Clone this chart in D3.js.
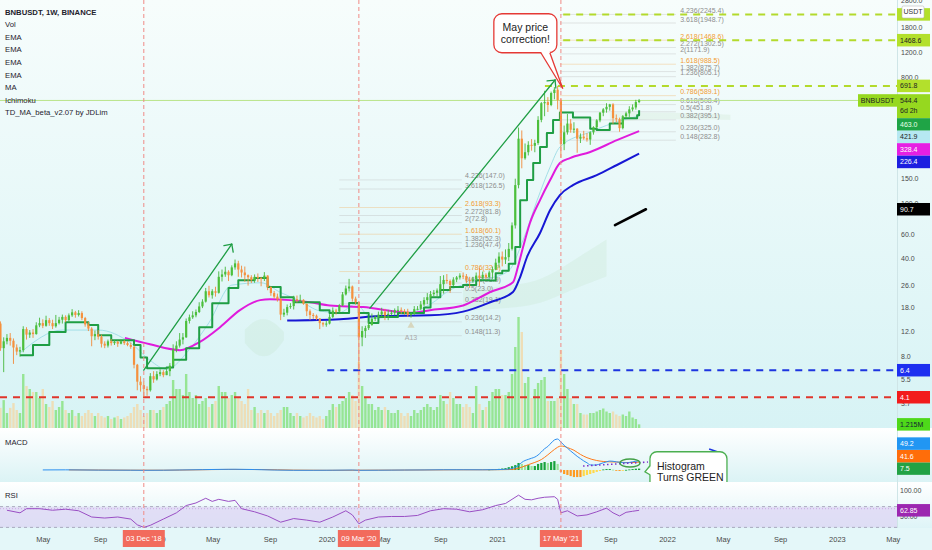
<!DOCTYPE html>
<html><head><meta charset="utf-8">
<script src="https://cdn.jsdelivr.net/npm/d3@7/dist/d3.min.js"></script>
<style>
html,body{margin:0;padding:0;background:#fff;}
svg{display:block;}
</style></head><body>
<svg id="c" width="932" height="550"></svg>
<script>
// ---------------- DATA (weekly BNBUSDT, first week starts 2018-01-29) ----------------
const firstWeek = "2018-01-29";
const firstOpen = 13.8;
const closes = [9.2,10.3,10.9,10.4,9.3,8.7,8.9,12.6,11.5,11.9,
11.6,13.4,13.9,13.3,14.6,13.9,13.2,13.9,14.7,15.4,
14.6,15.8,16.6,15.9,16.4,15.1,13.6,12.7,11.2,11.6,
11.1,9.9,9.6,10.3,10.0,10.2,9.9,10.3,10.0,9.7,
9.4,7.0,5.3,5.0,4.7,4.6,5.8,5.5,6.0,6.2,
5.9,6.3,6.9,9.0,9.6,10.6,11.0,14.4,15.3,15.8,
16.7,18.3,19.8,23.5,22.0,23.5,22.9,29.8,31.0,32.4,
30.6,34.8,37.2,33.6,32.0,30.6,29.6,28.2,29.8,29.2,
29.0,30.4,25.2,22.8,21.5,20.6,16.0,16.5,18.1,18.4,
20.6,20.2,20.4,19.1,16.9,15.9,15.7,15.0,13.9,13.6,
13.8,15.4,17.1,16.8,18.6,22.3,24.6,25.4,20.8,19.6,
11.0,12.2,12.8,13.5,14.9,15.4,16.0,16.8,15.8,16.2,
16.5,17.2,17.3,17.0,16.8,15.9,16.2,17.5,17.6,18.9,
20.3,21.3,22.4,22.9,23.8,26.4,28.3,27.8,26.0,28.5,
29.5,30.4,30.2,28.4,27.8,28.6,30.4,29.3,30.8,29.6,
32.0,33.6,37.6,41.6,39.6,41.2,47.2,69.5,135,290,
210,232,262,258,270,395,520,530,505,615,
650,548,265,322,372,336,342,290,300,292,
286,322,350,392,445,470,490,510,406,400,
345,420,440,470,485,530,544.4];
const highs = [14.3,11.0,11.6,11.8,10.8,9.8,9.4,13.2,13.0,12.4,
12.6,14.1,15.2,14.8,15.7,15.1,14.7,15.9,15.4,16.0,
15.8,16.3,17.5,17.0,17.2,16.9,15.4,14.2,13.0,12.3,
12.4,11.5,10.3,10.6,10.7,10.5,10.4,10.6,10.5,10.3,
10.1,9.6,7.1,5.8,5.3,4.9,6.1,6.3,6.3,6.5,
6.4,6.6,7.2,9.8,10.3,11.8,11.8,15.0,16.0,16.9,
17.4,19.6,20.6,24.8,25.7,24.3,25.3,32.6,33.6,35.2,
33.2,36.0,39.6,38.8,35.8,35.3,31.0,30.6,31.0,31.5,
29.8,32.2,30.6,25.5,23.6,22.6,21.0,17.6,18.9,19.3,
21.8,21.9,22.2,20.6,19.2,17.4,16.4,16.0,15.1,14.2,
14.4,16.1,18.0,17.6,19.0,23.2,25.8,28.8,25.8,21.5,
19.8,13.2,13.3,14.3,16.3,15.8,16.8,17.9,17.6,17.3,
17.2,17.7,18.4,18.0,17.5,17.6,16.6,18.4,18.4,20.0,
21.3,22.8,23.6,24.0,24.6,30.2,30.6,31.2,28.5,29.6,
30.2,31.6,32.0,31.2,29.8,29.8,32.0,34.6,32.5,31.6,
33.0,35.3,40.2,44.6,45.2,46.8,52.0,73.0,150,348,
332,268,278,288,285,420,530,638,575,630,
678,691.8,560,360,435,400,380,345,316,330,
318,328,356,400,450,480,520,515,520,432,
410,428,452,495,510,550,558];
const lows = [8.8,6.2,9.8,9.6,7.1,8.2,8.0,8.6,10.6,10.9,
10.9,11.5,13.0,12.8,13.1,13.3,12.6,12.9,13.6,13.8,
14.1,14.2,15.4,15.2,15.5,14.6,13.1,12.2,9.5,10.5,
10.6,9.3,9.2,9.3,9.6,9.7,9.4,9.8,9.7,9.5,
9.1,6.6,4.6,4.5,4.1,4.2,4.5,5.2,5.4,5.8,
5.7,5.9,5.8,6.8,8.6,9.3,9.8,10.9,13.8,14.9,
15.3,16.4,17.8,19.5,21.2,20.8,21.5,22.6,27.6,29.8,
27.8,30.1,33.5,29.8,29.5,27.5,25.8,26.9,27.0,27.4,
25.5,27.8,23.9,21.8,20.8,19.8,14.6,15.4,15.8,17.6,
17.4,19.5,19.6,18.8,15.6,14.6,14.9,14.6,12.6,13.1,
13.1,13.6,15.1,16.0,16.6,18.4,21.9,23.4,19.8,18.8,
6.4,9.5,10.9,12.4,13.3,14.4,15.0,15.6,14.6,14.6,
15.8,15.8,16.7,16.1,15.9,15.4,15.2,15.9,17.2,17.2,
18.4,19.0,20.8,21.6,21.5,22.8,22.6,26.6,22.9,25.6,
27.3,28.5,28.7,26.8,24.8,27.0,27.8,25.6,28.7,28.5,
29.0,28.8,33.2,34.6,35.4,36.8,38.6,46.0,66,128,
178,205,220,238,232,262,380,420,450,495,
555,470,211.7,240,310,320,318,230,270,285,
276,262,310,340,380,420,445,460,370,380,
325,338,405,415,455,468,520];
const volumesM = [6.7,9.3,5,6.7,8.3,6,5,18,14,13,
12,12,10,13,8,7,9,6,7,9,
6,5,6,4,5,4,5,6,5,4,
5,4,3.5,4,3,3.5,4,3,3.5,4,
5,7,8,6,4,5,6,6,5,6,
7,8,9,16,13,13,11,18,12,10,
11,8,9,10,7,8,9,14,12,12,
10,11,12,10,9,8,13,6,7,5,
6,5,6,5,4,5,6,7,7,5,
4,5,4,3.5,4,5,4,3.5,4,3,
4,6,8,7,8,9,10,12,11,9,
22,14,10,8,8,6,7,6,7,6,
5,5,6,5,4,5,4,6,5,6,
7,8,7,6,7,11,9,8,12,10,
8,8,7,8,7,5,14,8,6,7,
9,12,13,13,11,11,12,18,27,37,
32,15,17,10,13,15,16,17,9,9,
9,10,26,18,13,10,8,8,5,4.5,
4.5,5,5,5.5,6,6.5,5.5,5,5.5,4.5,
4,4.5,4,5.5,3.5,3,1.215];

// indicator lines (week index, value)
const tdWeeks = [6,10,15,20,27,30,34,41,43,45,51,53,57,61,65,70,73,78,82,86,90,94,98,101,107,110,113,116,122,127,130,132,135,138,142,146,150,152,154,156,158,159.5,161.6,163.5,165.6,167.7,169.6,171.7,175.7,181,183,187,191,195.4,196];
const tdValues = [8.2,9.7,12,14.1,13.5,11.4,10.5,9.7,7.9,6.6,6.7,7.6,9.2,13,19.3,24.8,28.2,29.2,25.2,21.3,19.6,19.6,17.2,16.4,19.4,16.4,13.9,15.4,16.4,16.4,18,21.3,24,25.2,26,28.2,28.1,31.6,33,37,48.7,105,147,194,253,318,394,446,411,341,334,373,406,427,463];
const cyanWeeks = [6,19,30,40,46,51,58,64,71,80,86,92,98,104,109,114,120,126,132,138,144,150,156,160.4,164.7,168.7,171.7,181,191,196];
const cyanValues = [8.5,12.4,12.4,10,7.5,6.5,9,14,26,27,23,20,17,16.5,19,15,15.5,16.5,19,24,27,29,33,54.6,105,182,253,324,394,421.9];
const magentaWeeks = [38.2,45.9,55.1,61.2,67.4,73.5,79.7,82.7,88.9,95,101.1,111.3,125.7,131.8,142,150.3,157.3,158.8,160.4,162.5,165.6,168.7,171.7,174.8,181,189.2,196];
const magentaValues = [10.9,9.8,8.9,10.2,13,17.2,20.3,20.6,20.3,19.6,18.6,18.1,16.5,17.2,18.6,23.2,27.3,35,48.7,72.3,105.5,146.7,194,210.6,233,283,328.4];
const blueWeeks = [88,104.2,116.5,131.8,142,150.3,157.3,159.5,161.6,165.6,168.7,171.7,175.7,183,189.2,196];
const blueValues = [14.5,14.8,15.6,15.8,16.8,19.6,23.2,29.7,41.3,61.3,89.5,114.6,135,159,188,226.4];

const cloud1Weeks = [75,78,81,84,87], cloud1Top = [12.5,14.6,15,14.2,12], cloud1Bottom = [10,8.3,7.9,8.4,10.5];
const cloud2Weeks = [142,150,158,166,175,186], cloud2Top = [24,25,26,28,38,55], cloud2Bottom = [17,17.5,18,19,24,30];
const cloud3Weeks = [187,195,205,215,224], cloud3Top = [445,445,445,440,430], cloud3Bottom = [380,395,400,400,395];

// MACD / RSI
const macdWeeks = [13,20,30,40,44,50,56,62,68,72,78,84,90,96,102,108,110,116,124,130,136,142,148,152,154,156,
157,158,159,160,161,162,163,164,165,166,167,168,169,170,171,172,173,174,175,176,177,178,179,180,181,182,183,184,185,186,187,188,189,190,191,192,193,194,195,196];
const macdValues = [0.5,1,-0.5,-1,-1.5,-1,0.5,2,3.5,4,2.5,0,-1.5,-1.5,-1,0,-1.5,-1,0,0.5,1.5,1.5,1.2,2,3,5,
8,15,25,40,50,56,62,68,79,95,112,124,142,158,163,147,130,115,100,86,72,60,48,38,27,26,27,32,38,43,47,46,43,41,39,38,40,43,46,49.2];
const signalWeeks = [21,30,40,50,60,70,80,90,100,110,120,130,140,150,154,156,158,160,162,164,166,168,170,172,173,174,176,178,180,183,185,187,189,191,193,195,196];
const signalValues = [0.8,0,-0.8,-1,1,3,2.5,-0.5,-1.5,-1,-0.5,0.3,1.3,1.3,2,2.5,5,15,28,40,55,80,108,126,124,118,104,82,65,50,45,43,42,40,39,40.5,41.6];
const histFirstWeek = 150;
const histValues = [3,4,5,6,8,10,15,20,26,37,32,26,26,21,21,32,37,42,37,42,47,32,-10,-21,-26,-32,-37,-37,-37,-32,-26,-21,-16,-10,-5,3,5,5,2,-3,-5,-3,1,3,5,7,7.5];
const rsiWeeks = [2,6,8,12,16,20,24,28,32,36,40,42,44,46,50,54,57,60,63,65,67,70,72,74,78,82,86,90,94,98,102,106,108,110,112,116,120,124,128,132,136,140,144,148,152,155,157,159,161,163,165,167,170,171,172,174,177,180,183,186,188,190,192,194,196];
const rsiValues = [63,58,66,66,63,65,62,50,48,50,46,35,30,34,46,58,72,77,86,80,84,80,82,66,60,52,40,47,44,40,50,62,54,37,44,50,51,51,53,62,66,65,60,64,72,76,84,92,84,83,86,88,89,84,58,62,52,54,60,67,58,52,59,61,62.85];

// Fibonacci levels (printed values)
const fibRatios = ["0.148","0.236","0.382","0.5","0.618","0.786","1.236","1.382","1.618","2","2.272","2.618","3.618","4.236"];
const fib1Values = [11.3,14.2,19.1,23.0,26.9,32.5,47.4,52.3,60.1,72.8,81.8,93.3,126.5,147.0];
const fib2Values = [282.8,325.0,395.1,451.8,508.4,589.1,805.1,875.7,988.5,1171.9,1302.5,1468.6,1948.7,2245.4];
const fibOrange = ["0.786","1.618","2.618"];

// horizontal levels
const limeLevels = [2245.4,1468.6,691.8], limeStartWeeks = [172.7,172.7,167.1];
const blueLevel = 6.4, blueLevelStart = 100.3;
const redLevel = 4.1;
const lastPrice = 544.4;

// axis ticks / labels
const priceTicks = [2800,1800,1200,800,150,100,60,40,26,18,12,8,5.5,3.7];
const timeTickDates = ["2018-05-01","2018-09-01","2019-01-01","2019-05-01","2019-09-01","2020-01-01","2020-05-01","2020-09-01","2021-01-01","2021-05-01","2021-09-01","2022-01-01","2022-05-01","2022-09-01","2023-01-01","2023-05-01"];
const timeTickLabels = ["May","Sep","2019","May","Sep","2020","May","Sep","2021","May","Sep","2022","May","Sep","2023","May"];
const markerDates = ["2018-12-03","2020-03-09","2021-05-17"];
const markerLabels = ["03 Dec '18","09 Mar '20","17 May '21"];
const legendLines = ["BNBUSDT, 1W, BINANCE","Vol","EMA","EMA","EMA","EMA","MA","Ichimoku","TD_MA_beta_v2.07 by JDLim"];

// drawings (week index, price)
const arrow1 = [[44,6.4],[71,51]];
const arrow2 = [[113.4,17.8],[170.2,762]];
const blackLine = [[188.6,69.9],[198.1,90.7]];

// ---------------- CHART ----------------
const FONT = "'Liberation Sans', Arial, sans-serif";
const svg = d3.select("#c").attr("font-family", FONT);
const W = 932, PR = 897;
const MAIN_B = 428, MACD_B = 482, RSI_B = 528;

const x = d3.scaleUtc().domain([new Date(Date.UTC(2018,0,1)), new Date(Date.UTC(2023,0,1))]).range([-12.6, 837.4]);
const t0 = Date.parse(firstWeek + "T00:00:00Z");
const wd = i => new Date(t0 + i*7*864e5);
const xw = i => x(wd(i));
const y = d3.scaleLog().domain([2.43, 2847]).range([429, 0]);
const yVol = d3.scaleLinear().domain([0, 40]).range([MAIN_B, 308]);
const yMacd = d3.scaleLinear().domain([-63, 221]).range([MACD_B, MAIN_B]);
const yRsi = d3.scaleLinear().domain([28.85, 117.3]).range([RSI_B, MACD_B]);

const defs = svg.append("defs");
function grad(id, c0, c1){
  const g = defs.append("linearGradient").attr("id", id).attr("x1",0).attr("y1",0).attr("x2",0).attr("y2",1);
  g.append("stop").attr("offset","0%").attr("stop-color",c0);
  g.append("stop").attr("offset","100%").attr("stop-color",c1);
}
grad("gMain","#f7fdfc","#d7f3f5");
grad("gMacd","#ffffff","#dbf3f5");
grad("gRsi","#ffffff","#def4f7");
function clip(id, y0, y1){ defs.append("clipPath").attr("id", id).append("rect").attr("x",0).attr("y",y0).attr("width",PR).attr("height",y1-y0); }
clip("cMain", 0, MAIN_B); clip("cMacd", MAIN_B, MACD_B); clip("cRsi", MACD_B, RSI_B);

svg.append("rect").attr("x",0).attr("y",0).attr("width",W).attr("height",MAIN_B).attr("fill","url(#gMain)");
svg.append("rect").attr("x",0).attr("y",MAIN_B).attr("width",W).attr("height",MACD_B-MAIN_B).attr("fill","url(#gMacd)");
svg.append("rect").attr("x",0).attr("y",MACD_B).attr("width",W).attr("height",RSI_B-MACD_B).attr("fill","url(#gRsi)");
svg.append("rect").attr("x",0).attr("y",RSI_B).attr("width",W).attr("height",550-RSI_B).attr("fill","#e4f7f9");
svg.append("line").attr("x1",PR+0.5).attr("x2",PR+0.5).attr("y1",0).attr("y2",RSI_B).attr("stroke","#cfe5e7");

const main = svg.append("g").attr("clip-path","url(#cMain)");

// ichimoku clouds (faint)
function cloud(weeks, top, bot){
  const pts = weeks.map((w,k)=>({w, t: top[k], b: bot[k]}));
  main.append("path").datum(pts)
    .attr("d", d3.area().x(d=>xw(d.w)).y0(d=>y(d.b)).y1(d=>y(d.t)).curve(d3.curveBasis))
    .attr("fill","#a9d3a3").attr("fill-opacity",0.14);
}
cloud(cloud1Weeks, cloud1Top, cloud1Bottom);
cloud(cloud2Weeks, cloud2Top, cloud2Bottom);
cloud(cloud3Weeks, cloud3Top, cloud3Bottom);

// candles data
const candles = closes.map((c,i)=>({i, o: i===0 ? firstOpen : closes[i-1], h: highs[i], l: lows[i], c, v: volumesM[i]}));

// volume
main.append("g").selectAll("rect").data(candles).join("rect")
  .attr("x", d=>xw(d.i)-1.2).attr("width",2.4)
  .attr("y", d=>yVol(d.v)).attr("height", d=>MAIN_B - yVol(d.v))
  .attr("fill", d=> d.c >= d.o ? "#8fe38a" : "#f0dcb0").attr("fill-opacity",0.9);

// fib levels
const gFib = main.append("g").attr("font-size", 7).attr("font-family", FONT);
function fib(values, w0, w1, wl){
  values.forEach((v,k)=>{
    const r = fibRatios[k], orange = fibOrange.includes(r);
    gFib.append("line").attr("x1",xw(w0)).attr("x2",xw(w1)).attr("y1",y(v)).attr("y2",y(v))
      .attr("stroke", orange ? "#f4b060" : "#b8b8b8").attr("stroke-opacity",0.45).attr("stroke-width",0.8);
    gFib.append("text").attr("x", xw(wl)).attr("y", y(v)-1.5)
      .attr("fill", orange ? "#f39c35" : "#8e8e8e").text(`${r}(${v.toFixed(1)})`);
  });
}
fib(fib1Values, 104, 141.6, 142.6);
fib(fib2Values, 171.7, 207.3, 208.6);

// current price line
main.append("line").attr("x1",0).attr("x2",PR).attr("y1",y(lastPrice)).attr("y2",y(lastPrice)).attr("stroke","#b9e48a").attr("stroke-width",1);

// dashed levels
limeLevels.forEach((v,k)=>{
  main.append("line").attr("x1",xw(limeStartWeeks[k])).attr("x2",PR).attr("y1",y(v)).attr("y2",y(v))
    .attr("stroke","#b3da2c").attr("stroke-width",2).attr("stroke-dasharray","7,6");
});
main.append("line").attr("x1",xw(blueLevelStart)).attr("x2",PR).attr("y1",y(blueLevel)).attr("y2",y(blueLevel))
  .attr("stroke","#1d35e0").attr("stroke-width",2).attr("stroke-dasharray","7,6");
main.append("line").attr("x1",0).attr("x2",PR).attr("y1",y(redLevel)).attr("y2",y(redLevel))
  .attr("stroke","#e0352b").attr("stroke-width",2).attr("stroke-dasharray","7,6");

// indicator lines
function series(weeks, values, color, width, curve){
  const pts = weeks.map((w,k)=>[w, values[k]]);
  main.append("path").datum(pts).attr("d", d3.line().x(d=>xw(d[0])).y(d=>y(d[1])).curve(curve))
    .attr("fill","none").attr("stroke",color).attr("stroke-width",width).attr("stroke-linejoin","round");
}
series(cyanWeeks, cyanValues, "#a3dfe8", 1, d3.curveMonotoneX);
series(blueWeeks, blueValues, "#1717d4", 2, d3.curveMonotoneX);
series(magentaWeeks, magentaValues, "#e01bdc", 2, d3.curveMonotoneX);
series(tdWeeks, tdValues, "#1f9e44", 2, d3.curveStepAfter);

// candles
const gC = main.append("g");
gC.selectAll("line").data(candles).join("line")
  .attr("x1", d=>xw(d.i)).attr("x2", d=>xw(d.i))
  .attr("y1", d=>y(Math.max(d.h,d.o,d.c))).attr("y2", d=>y(Math.min(d.l,d.o,d.c)))
  .attr("stroke", d=> d.c >= d.o ? "#45b83a" : "#f28a3a").attr("stroke-width",0.9);
gC.selectAll("rect").data(candles).join("rect")
  .attr("x", d=>xw(d.i)-1.1).attr("width",2.2)
  .attr("y", d=>y(Math.max(d.o,d.c))).attr("height", d=>Math.max(1, Math.abs(y(d.o)-y(d.c))))
  .attr("fill", d=> d.c >= d.o ? "#4cbf3c" : "#f5913e");

// TD marker
const tdm = candles[126];
main.append("path").attr("d", d3.symbol(d3.symbolTriangle, 22)())
  .attr("transform", `translate(${xw(126)},${y(tdm.l)+8})`).attr("fill","#d7d7bf");
main.append("text").attr("x", xw(126)).attr("y", y(tdm.l)+22).attr("text-anchor","middle")
  .attr("font-size",7).attr("fill","#a9a9a9").text("A13");

// arrows
function arrow(seg, color, width, head){
  const [a,b] = seg;
  const x0 = xw(a[0]), y0 = y(a[1]), x1 = xw(b[0]), y1 = y(b[1]);
  main.append("line").attr("x1",x0).attr("y1",y0).attr("x2",x1).attr("y2",y1)
    .attr("stroke",color).attr("stroke-width",width).attr("stroke-linecap","round");
  if (head){
    const ang = Math.atan2(y0-y1, x0-x1), L = 8;
    [-Math.PI/4, Math.PI/4].forEach(d=>{
      main.append("line").attr("x1",x1).attr("y1",y1)
        .attr("x2", x1 + L*Math.cos(ang+d)).attr("y2", y1 + L*Math.sin(ang+d))
        .attr("stroke",color).attr("stroke-width",width).attr("stroke-linecap","round");
    });
  }
}
arrow(arrow1, "#1f9e44", 1.3, true);
arrow(arrow2, "#1f9e44", 1.3, true);
arrow(blackLine, "#000", 2.6, false);

// ---------------- MACD ----------------
const macdG = svg.append("g").attr("clip-path","url(#cMacd)");
const histPts = histValues.map((v,k)=>({w: histFirstWeek+k, v, p: k ? histValues[k-1] : 0}));
macdG.selectAll("rect").data(histPts).join("rect")
  .attr("x", d=>xw(d.w)-1.1).attr("width",2.2)
  .attr("y", d=>Math.min(yMacd(0), yMacd(d.v))).attr("height", d=>Math.max(0.8, Math.abs(yMacd(d.v)-yMacd(0))))
  .attr("fill", d=> d.v >= 0 ? (d.v >= d.p ? "#17a23a" : "#9ae49a") : (d.v <= d.p ? "#ff9a1f" : "#ffd84a"));
function macdLine(weeks, values, color){
  macdG.append("path").datum(weeks.map((w,k)=>[w, values[k]]))
    .attr("d", d3.line().x(d=>xw(d[0])).y(d=>yMacd(d[1])).curve(d3.curveMonotoneX))
    .attr("fill","none").attr("stroke",color).attr("stroke-width",1);
}
macdLine(signalWeeks, signalValues, "#ff7a1a");
macdLine(macdWeeks, macdValues, "#2b8ff0");
// macd annotations
macdG.append("line").attr("x1",xw(178.8)).attr("y1",yMacd(21)).attr("x2",xw(198.7)).attr("y2",yMacd(42))
  .attr("stroke","#7b2fc9").attr("stroke-width",1.6).attr("stroke-dasharray","1.5,2.5");
macdG.append("ellipse").attr("cx",xw(193.2)).attr("cy",yMacd(37)).attr("rx",10).attr("ry",4)
  .attr("fill","none").attr("stroke","#43a047").attr("stroke-width",1.4);
macdG.append("line").attr("x1",xw(217.5)).attr("y1",yMacd(110)).attr("x2",xw(220.2)).attr("y2",yMacd(95))
  .attr("stroke","#1d35e0").attr("stroke-width",1.6);
{ // Histogram callout
  const tx = xw(197.8), ty = yMacd(-9);
  const bx = tx+5, by = ty-20, bw = 77, bh = 42;
  macdG.append("rect").attr("x",bx).attr("y",by).attr("width",bw).attr("height",bh).attr("rx",7)
    .attr("fill","#fff").attr("stroke","#4caf50").attr("stroke-width",1.3);
  macdG.append("path").attr("d",`M${bx+1},${ty-6} L${tx},${ty} L${bx+1},${ty+3} Z`).attr("fill","#fff");
  macdG.append("path").attr("d",`M${bx},${ty-6} L${tx},${ty} L${bx},${ty+3}`).attr("fill","none").attr("stroke","#4caf50").attr("stroke-width",1.3);
  macdG.append("text").attr("x",bx+7).attr("y",ty-2).attr("font-size",10.5).attr("fill","#222").text("Histogram");
  macdG.append("text").attr("x",bx+7).attr("y",ty+9).attr("font-size",10.5).attr("fill","#222").text("Turns GREEN");
}

// ---------------- RSI ----------------
const rsiG = svg.append("g").attr("clip-path","url(#cRsi)");
rsiG.append("rect").attr("x",0).attr("width",PR).attr("y",yRsi(70)).attr("height",yRsi(30)-yRsi(70)).attr("fill","#ddd5f4").attr("fill-opacity",0.75);
[70,30].forEach(v=> rsiG.append("line").attr("x1",0).attr("x2",PR).attr("y1",yRsi(v)).attr("y2",yRsi(v))
  .attr("stroke","#9a9ab0").attr("stroke-dasharray","3,3").attr("stroke-width",0.8));
rsiG.append("line").attr("x1",0).attr("x2",PR).attr("y1",yRsi(66)).attr("y2",yRsi(66))
  .attr("stroke","#c79be0").attr("stroke-dasharray","1,2").attr("stroke-width",0.8);
rsiG.append("path").datum(rsiWeeks.map((w,k)=>[w, rsiValues[k]]))
  .attr("d", d3.line().x(d=>xw(d[0])).y(d=>yRsi(d[1])))
  .attr("fill","none").attr("stroke","#9a4fc4").attr("stroke-width",1);

// ---------------- vertical date markers ----------------
const markerX = markerDates.map(d=>x(new Date(d+"T00:00:00Z")));
markerX.forEach(xx=>{
  svg.append("line").attr("x1",xx).attr("x2",xx).attr("y1",0).attr("y2",RSI_B)
    .attr("stroke","#f08a86").attr("stroke-width",1).attr("stroke-dasharray","4,3");
});

// ---------------- May callout ----------------
{
  const tx = xw(172.6), ty = y(660);
  const bw = 63, bh = 39, bx = tx-69, by = ty-75;
  svg.append("rect").attr("x",bx).attr("y",by).attr("width",bw).attr("height",bh).attr("rx",8)
    .attr("fill","#fff").attr("stroke","#e53935").attr("stroke-width",1.3);
  svg.append("path").attr("d",`M${bx+47},${by+bh-1} L${tx},${ty} L${bx+56},${by+bh-1} Z`).attr("fill","#fff");
  svg.append("path").attr("d",`M${bx+47},${by+bh} L${tx},${ty} L${bx+56},${by+bh}`).attr("fill","none").attr("stroke","#e53935").attr("stroke-width",1.3);
  svg.append("text").attr("x",bx+bw/2).attr("y",by+17.5).attr("text-anchor","middle").attr("font-size",10.5).attr("fill","#222").text("May price");
  svg.append("text").attr("x",bx+bw/2).attr("y",by+29).attr("text-anchor","middle").attr("font-size",10.5).attr("fill","#222").text("correction!");
}

// ---------------- legend ----------------
legendLines.forEach((t,k)=>{
  svg.append("text").attr("x",5).attr("y",12+k*12.6).attr("dy","0.35em")
    .attr("font-size",7.7).attr("font-weight", k===0 ? "bold" : "normal").attr("fill","#1e222d").text(t);
});
svg.append("text").attr("x",5).attr("y",442).attr("dy","0.35em").attr("font-size",7.7).attr("fill","#1e222d").text("MACD");
svg.append("text").attr("x",5).attr("y",495).attr("dy","0.35em").attr("font-size",7.7).attr("fill","#1e222d").text("RSI");

// ---------------- right axis ----------------
const ax = svg.append("g").attr("font-size",7).attr("fill","#4a4a4a");
priceTicks.forEach(v=>{
  ax.append("text").attr("x",901).attr("y",y(v)).attr("dy","0.35em").text(v.toFixed(1));
});
[100,50].forEach(v=> ax.append("text").attr("x",900).attr("y",yRsi(v)).attr("dy","0.35em").text(v.toFixed(2)));

function box(yc, lines, bg, fg, h){
  const g = svg.append("g");
  g.append("rect").attr("x",PR).attr("y",yc-6.25).attr("width",33).attr("height",h).attr("fill",bg);
  lines.forEach((t,k)=> g.append("text").attr("x",900).attr("y",yc+k*10.5).attr("dy","0.35em")
    .attr("font-size",7).attr("fill",fg).text(t));
}
// main-pane value labels, stacked downward when they would overlap
const stackItems = [
  {v:691.8, lines:["691.8"], bg:"#b3e02c", fg:"#222"},
  {v:lastPrice, lines:["544.4","6d 2h"], bg:"#96d81f", fg:"#222"},
  {v:tdValues[tdValues.length-1], lines:["463.0"], bg:"#1fa446", fg:"#e8ffe8"},
  {v:cyanValues[cyanValues.length-1], lines:["421.9"], bg:"#b6e8f2", fg:"#222"},
  {v:magentaValues[magentaValues.length-1], lines:["328.4"], bg:"#e61fe3", fg:"#fff"},
  {v:blueValues[blueValues.length-1], lines:["226.4"], bg:"#1d1fe0", fg:"#fff"}
];
let bottom = -1e9;
stackItems.forEach(s=>{
  const h = s.lines.length > 1 ? 24 : 12.5;
  let top = Math.max(y(s.v)-6.25, bottom);
  box(top+6.25, s.lines, s.bg, s.fg, h);
  bottom = top + h;
});
// 2245.4 level tag sits behind the USDT badge (only its edges show)
box(y(2245.4), [], "#b3e02c", "#222", 12.5);
box(y(1468.6), ["1468.6"], "#b3e02c", "#222", 12.5);
box(y(90.7), ["90.7"], "#000", "#fff", 12.5);
box(y(blueLevel), ["6.4"], "#1d2ff0", "#fff", 12.5);
box(y(redLevel), ["4.1"], "#f21c1c", "#fff", 12.5);
box(yVol(volumesM[volumesM.length-1]), ["1.215M"], "#4ed81a", "#123", 12.5);
// macd labels stacked upward
{
  let top = 1e9;
  [{v:histValues[histValues.length-1], t:"7.5", bg:"#22a244"},
   {v:signalValues[signalValues.length-1], t:"41.6", bg:"#ff6d0a"},
   {v:macdValues[macdValues.length-1], t:"49.2", bg:"#2196f3"}].forEach(s=>{
     const yc = Math.min(yMacd(s.v), top - 6.25);
     box(yc, [s.t], s.bg, "#fff", 12.5);
     top = yc - 6.25;
  });
}
box(yRsi(62.85), ["62.85"], "#9c27b0", "#fff", 12.5);
// USDT
svg.append("rect").attr("x",902).attr("y",6).attr("width",22).attr("height",12).attr("fill","#fff").attr("stroke","#b8b8b8").attr("stroke-width",0.6).attr("rx",1.5);
svg.append("text").attr("x",913).attr("y",12).attr("dy","0.35em").attr("text-anchor","middle").attr("font-size",7).attr("fill","#333").text("USDT");
// BNBUSDT tag
svg.append("rect").attr("x",858).attr("y",y(lastPrice)-6.25).attr("width",39).attr("height",12.5).attr("fill","#96d81f");
svg.append("text").attr("x",877.5).attr("y",y(lastPrice)).attr("dy","0.35em").attr("text-anchor","middle").attr("font-size",7).attr("fill","#222").text("BNBUSDT");

// ---------------- time axis ----------------
const tg = svg.append("g").attr("font-size",7.5).attr("fill","#4a4a4a").attr("text-anchor","middle");
timeTickDates.forEach((d,k)=>{
  const xx = x(new Date(d+"T00:00:00Z"));
  // a tick that sits completely under a date marker is hidden, as on the chart
  if (markerX.some(m => Math.abs(m - xx) < 10)) return;
  tg.append("text").attr("x", xx).attr("y",539).attr("dy","0.35em").text(timeTickLabels[k]);
});
markerX.forEach((xx,k)=>{
  svg.append("rect").attr("x",xx-21).attr("y",530).attr("width",42).attr("height",17).attr("fill","#f26b5d");
  svg.append("text").attr("x",xx).attr("y",538.5).attr("dy","0.35em").attr("text-anchor","middle")
    .attr("font-size",7.5).attr("fill","#fff").text(markerLabels[k]);
});
</script>
</body></html>
